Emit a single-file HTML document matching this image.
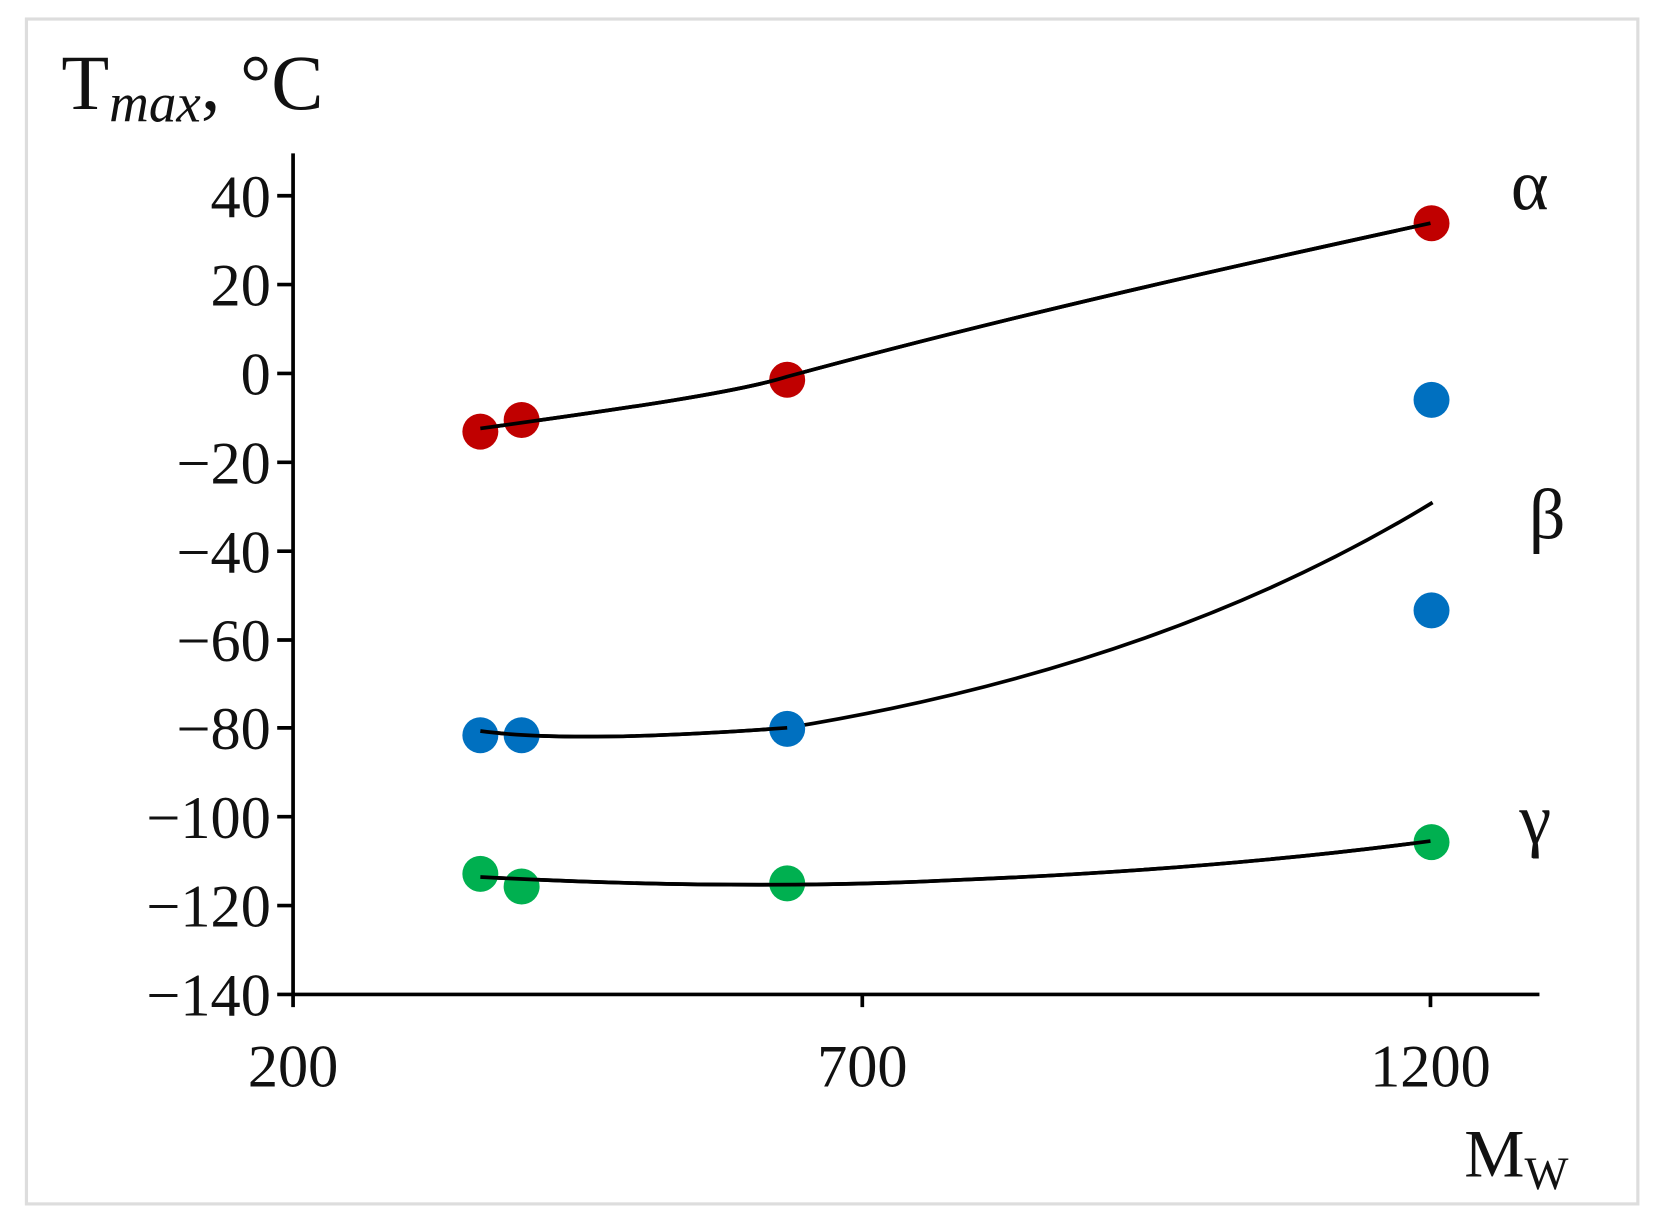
<!DOCTYPE html>
<html><head><meta charset="utf-8"><style>
html,body{margin:0;padding:0;background:#fff;}
svg{display:block;}
text{font-family:"Liberation Serif",serif;fill:#111;}
</style></head><body>
<svg width="1659" height="1224" viewBox="0 0 1568 1157" preserveAspectRatio="none">
<rect x="25" y="18" width="1523" height="1120" fill="#fff" stroke="#ddd" stroke-width="3"/>
<g stroke="#000" stroke-width="3.5" fill="none">
<line x1="277" y1="145" x2="277" y2="952"/>
<line x1="262" y1="940" x2="1455" y2="940"/>
<line x1="262" y1="185" x2="277" y2="185"/>
<line x1="262" y1="269" x2="277" y2="269"/>
<line x1="262" y1="353" x2="277" y2="353"/>
<line x1="262" y1="437" x2="277" y2="437"/>
<line x1="262" y1="521" x2="277" y2="521"/>
<line x1="262" y1="605" x2="277" y2="605"/>
<line x1="262" y1="688" x2="277" y2="688"/>
<line x1="262" y1="772" x2="277" y2="772"/>
<line x1="262" y1="856" x2="277" y2="856"/>
<line x1="815" y1="940" x2="815" y2="952"/>
<line x1="1352" y1="940" x2="1352" y2="952"/>
</g>
<g font-size="57" text-anchor="end">
<text x="256" y="205">40</text>
<text x="256" y="289">20</text>
<text x="256" y="373">0</text>
<text x="256" y="457">−20</text>
<text x="256" y="541">−40</text>
<text x="256" y="625">−60</text>
<text x="256" y="708">−80</text>
<text x="256" y="792">−100</text>
<text x="256" y="876">−120</text>
<text x="256" y="960">−140</text>
</g>
<g font-size="57" text-anchor="middle">
<text x="277" y="1027">200</text>
<text x="815" y="1027">700</text>
<text x="1352" y="1027">1200</text>
</g>
<text x="58" y="103" font-size="74">T<tspan font-style="italic" font-size="52" dy="12">max</tspan><tspan dy="-12">, °C</tspan></text>
<text x="1384" y="1112" font-size="64">M<tspan font-size="44" dy="12">W</tspan></text>
<text x="1428" y="198" font-size="68">α</text>
<text x="1445" y="509" font-size="68">β</text>
<text x="1436" y="797" font-size="68">γ</text>
<g stroke="#000" stroke-width="3.5" fill="none">
<path d="M454,405 C600,385 700,370 744,356 C950,300 1150,255 1352,211"/>
<path d="M454,691 Q540,703 744,688 Q1100,630 1354,475"/>
<path d="M454,829 Q700,842 900,832 Q1150,822 1352,795"/>
</g>
<g fill="#c00000">
<circle cx="454" cy="408" r="17"/><circle cx="493" cy="397" r="17"/><circle cx="744" cy="359" r="17"/><circle cx="1353" cy="211" r="17"/>
</g>
<g fill="#0070c0">
<circle cx="454" cy="695" r="17"/><circle cx="493" cy="695" r="17"/><circle cx="744" cy="689" r="17"/><circle cx="1353" cy="378" r="17"/><circle cx="1353" cy="577" r="17"/>
</g>
<g fill="#00b050">
<circle cx="454" cy="826" r="17"/><circle cx="493" cy="838" r="17"/><circle cx="744" cy="835" r="17"/><circle cx="1353" cy="796" r="17"/>
</g>
<g stroke="#000" stroke-width="3.5" fill="none">
<path d="M454,405 C600,385 700,370 744,356 C950,300 1150,255 1352,211"/>
<path d="M454,691 Q540,703 744,688"/>
<path d="M454,829 Q700,842 900,832 Q1150,822 1352,795"/>
</g>
</svg>
</body></html>
